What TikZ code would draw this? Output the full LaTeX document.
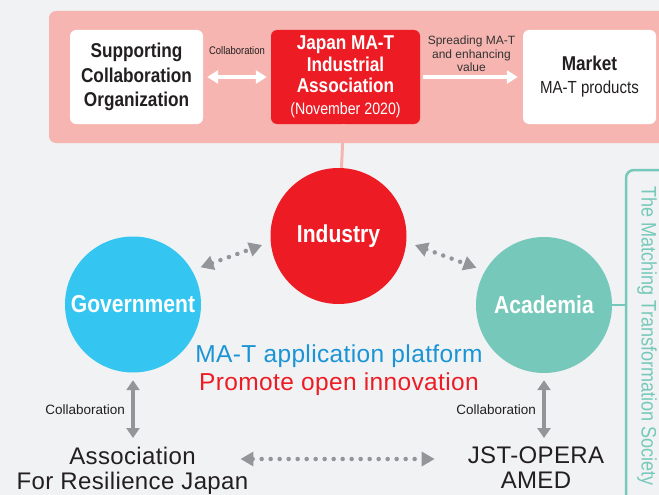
\documentclass[tikz,border=0pt]{standalone}
\usepackage{fontspec}
\setmainfont{Liberation Sans}
\newfontfamily\condfont[FakeStretch=0.86]{Liberation Sans}
\newfontfamily\wideface[LetterSpace=1.5]{Liberation Sans}
\usetikzlibrary{arrows.meta}

\definecolor{bggray}{HTML}{F1F2F4}
\definecolor{panelpink}{HTML}{F6B5B0}
\definecolor{jred}{HTML}{ED1C24}
\definecolor{govblue}{HTML}{35C5F1}
\definecolor{acteal}{HTML}{76C9BA}
\definecolor{arrgray}{HTML}{939598}
\definecolor{txtdark}{HTML}{231F20}
\definecolor{platblue}{HTML}{1A94D4}

\begin{document}
\begin{tikzpicture}[x=1pt,y=-1pt,
    box/.style={fill=white, rounded corners=6pt, minimum width=133pt, minimum height=94pt,
        align=center, inner sep=0pt, text=txtdark},
    ball/.style={circle, minimum size=136pt, inner sep=0pt, text=white,
        font=\condfont\bfseries\fontsize{24.5}{28}\selectfont},
    lbl/.style={text=txtdark, inner sep=0pt, align=center},
    bigtxt/.style={text=txtdark, inner sep=0pt, align=center,
        font=\wideface\fontsize{24}{24.5}\selectfont},
    warr/.style={draw=white, line width=4pt, {Triangle[width=13pt,length=11pt]}-{Triangle[width=13pt,length=11pt]}},
    garr/.style={draw=arrgray, line width=4pt, {Triangle[width=13pt,length=10pt]}-{Triangle[width=13pt,length=10pt]}},
    dotarr/.style={draw=arrgray, line width=4.5pt, line cap=round, dash pattern=on 0pt off 9pt,
        {Triangle[width=14pt,length=13pt]}-{Triangle[width=14pt,length=13pt]}}]

    \clip (0,0) rectangle (659,495);
    \fill[bggray] (0,0) rectangle (659,495);

    % top panel
    \node[fill=panelpink, rounded corners=7pt, minimum width=631pt, minimum height=132pt] (panel) at (364.5,77) {};
    \node[box, font=\condfont\bfseries\fontsize{20}{24.5}\selectfont] (spo) at (136.5,77)
        {Supporting\\Collaboration\\Organization};
    \node[box, fill=jred, text=white, minimum width=149pt, font=\condfont\bfseries\fontsize{20}{21.5}\selectfont] (jmat) at (345.5,77)
        {Japan MA-T\\Industrial\\Association\\{\mdseries\fontsize{16.5}{19}\selectfont(November 2020)}};
    \node[box, font=\condfont\bfseries\fontsize{20}{23}\selectfont] (market) at (589.5,77)
        {Market\\{\mdseries\fontsize{17.5}{20}\selectfont MA-T products}};
    \draw[warr, shorten <=4pt, shorten >=4pt] (spo) -- (jmat);
    \node[lbl, font=\condfont\fontsize{11}{13}\selectfont] (collab) at (237,51) {Collaboration};
    \draw[warr, -{Triangle[width=13pt,length=11pt]}, shorten <=3pt, shorten >=5pt] (jmat) -- (market);
    \node[lbl, text=black!80, font=\fontsize{12}{13.5}\selectfont] (spread) at (471.5,54)
        {Spreading MA-T\\and enhancing\\value};

    % right frame
    \node[draw=acteal, line width=2.5pt, fill=bggray, rounded corners=8pt, minimum width=74pt, minimum height=350pt] (frame) at (663,345) {};
    \node[rotate=-90, text=acteal, inner sep=0pt, font=\condfont\fontsize{21}{22}\selectfont] (society) at (647,336)
        {The Matching Transformation Society};

    % three circles
    \node[ball, fill=jred] (industry) at (338.5,236) {Industry};
    \node[ball, fill=govblue] (government) at (133,304.5) {Government};
    \node[ball, fill=acteal] (academia) at (544,305) {Academia};
    \draw[panelpink, line width=3pt] (jmat) -- (industry);
    \draw[acteal, line width=2.5pt] (academia) -- (academia -| frame.west);
    \draw[dotarr, shorten <=9pt, shorten >=9pt] (government.30) -- (industry.185);
    \draw[dotarr, shorten <=9pt, shorten >=9pt] (industry.355) -- (academia.150);

    \node[anchor=base, text=platblue, inner sep=0pt, font=\wideface\fontsize{24.5}{25}\selectfont] (platform) at (339,362)
        {MA-T application platform};
    \node[anchor=base, text=jred, inner sep=0pt, font=\wideface\fontsize{24.5}{25}\selectfont] (promote) at (339,390)
        {Promote open innovation};

    % bottom partners
    \node[bigtxt, anchor=north] (arj) at (132.5,447) {Association\\For Resilience Japan};
    \node[bigtxt, anchor=north] (opera) at (536,447) {JST-OPERA\\AMED};
    \draw[garr, shorten <=7.5pt, shorten >=9pt] (government.south) -- (government.south |- arj.north)
        node[midway, left=6pt, lbl, font=\fontsize{13.5}{15}\selectfont] {Collaboration};
    \draw[garr, shorten <=7pt, shorten >=9pt] (academia.south) -- (academia.south |- opera.north)
        node[midway, left=6pt, lbl, font=\fontsize{13.5}{15}\selectfont] {Collaboration};
    \draw[dotarr] ([shift={(-8,12)}]arj.north east) -- ([shift={(-33,12)}]opera.north west);
\end{tikzpicture}
\end{document}
